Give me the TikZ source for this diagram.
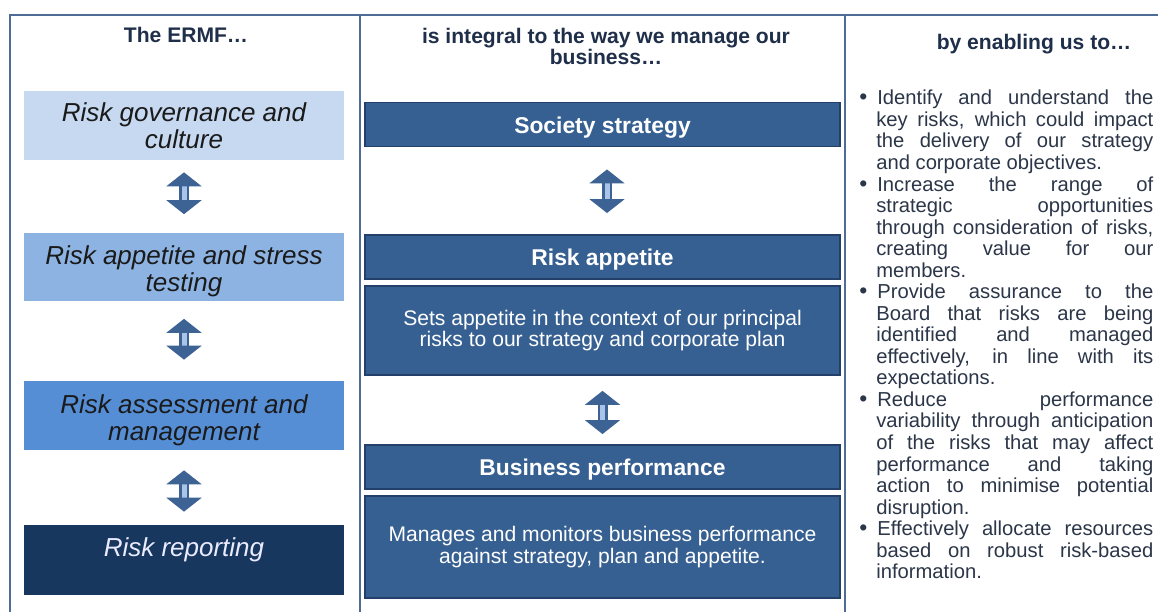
\documentclass[tikz,border=0pt]{standalone}
\usepackage{fontspec}
\setmainfont{Liberation Sans}
\usetikzlibrary{positioning, arrows.meta}

\definecolor{framecol}{HTML}{4F6C96}
\definecolor{headtxt}{HTML}{1F2F4A}
\definecolor{bodytxt}{HTML}{2B3648}
\definecolor{boxtxt}{HTML}{1A1A1A}
\definecolor{govfill}{HTML}{C6D9F1}
\definecolor{appfill}{HTML}{8DB3E2}
\definecolor{assfill}{HTML}{558ED5}
\definecolor{repfill}{HTML}{17375E}
\definecolor{midfill}{HTML}{376092}
\definecolor{midline}{HTML}{22406A}
\definecolor{arrowdark}{HTML}{3D6394}
\definecolor{arrowlite}{HTML}{A9C4E8}

% bullet list for the right hand column
\newenvironment{enablelist}{%
  \begin{list}{{\fontsize{13}{13}\selectfont\textbullet}}{%
    \setlength{\leftmargin}{0.36cm}\setlength{\labelwidth}{0.14cm}%
    \setlength{\labelsep}{0.2cm}\setlength{\itemindent}{0pt}%
    \setlength{\itemsep}{0pt}\setlength{\parsep}{0pt}%
    \setlength{\topsep}{0pt}\setlength{\partopsep}{0pt}}%
  \tolerance=9999 \hbadness=10000}
  {\end{list}}

\begin{document}
\begin{tikzpicture}[x=0.02cm, y=-0.02cm]
% Define styles
\tikzstyle{frame}=[draw=framecol, line width=1.4pt]
\tikzstyle{colhead}=[align=center, text=headtxt, inner sep=0pt, font=\fontsize{12}{12}\selectfont\bfseries]
\tikzstyle{ermf}=[rectangle, minimum width=6.4cm, minimum height=1.38cm, inner sep=0pt, align=center, text=boxtxt, font=\fontsize{14.8}{15.4}\selectfont\itshape]
\tikzstyle{midbox}=[rectangle, draw=midline, line width=1.1pt, fill=midfill, minimum width=9.5cm, inner sep=0pt, text=white]
\tikzstyle{midtitle}=[midbox, minimum height=0.88cm, text height=12.9pt, text depth=2.7pt, font=\fontsize{13}{14}\selectfont\bfseries]
\tikzstyle{middesc}=[midbox, align=center, font=\fontsize{12}{12.3}\selectfont]
\tikzstyle{enable}=[text width=5.9cm, inner sep=0pt, align=justify, text=bodytxt, font=\fontsize{11.5}{12.26}\selectfont]
\tikzstyle{updown}=[draw=arrowdark, line width=0.05cm, double=arrowlite, double distance=0.1cm, {Triangle[width=0.7cm,length=0.28cm]}-{Triangle[width=0.7cm,length=0.28cm]}]

\fill[white] (0,0) rectangle (1158,612);
\useasboundingbox (0,0) rectangle (1158,612);

% Column frame
\draw[frame] (10,612) -- (10,15) -- (1158,15);
\draw[frame] (360,15) -- (360,612);
\draw[frame] (845,15) -- (845,612);

% Place nodes
\node[colhead] (ermfhead) at (186,35) {The ERMF…};
\node[colhead] (wayhead) at (606,46.5) {is integral to the way we manage our\\business…};
\node[colhead] (enablehead) at (1034,44) {by enabling us to…};

% left column: the framework
\node[ermf, fill=govfill] (gov) at (184,125.5) {Risk governance and\\culture};
\node[ermf, fill=appfill, text height=28pt, text depth=0pt] (app) at (184,267) {Risk appetite and stress\\testing};
\node[ermf, fill=assfill, text height=28pt, text depth=0pt] (ass) at (184,415.5) {Risk assessment and\\management};
\node[ermf, fill=repfill, minimum height=1.4cm, text=white!92!blue, text depth=0.5cm] (rep) at (184,560) {Risk reporting};

% middle column: how it is used
\node[midtitle] (soc) at (602.5,124.5) {Society strategy};
\node[midtitle] (apt) at (602.5,257) {Risk appetite};
\node[middesc, minimum height=1.78cm, below=0.1cm of apt] (setd) {Sets appetite in the context of our principal\\risks to our strategy and corporate plan};
\node[midtitle] (bus) at (602.5,467) {Business performance};
\node[middesc, minimum height=2.04cm, below=0.1cm of bus] (mand) {Manages and monitors business performance\\against strategy, plan and appetite.};

% right column: what it enables
\node[enable, anchor=north west] (aims) at (858,83) {\begin{enablelist}
\item Identify and understand the\linebreak key risks, which could impact\linebreak the delivery of our strategy\linebreak and corporate objectives.
\item Increase the range of\linebreak strategic opportunities\linebreak through consideration of risks,\linebreak creating value for our\linebreak members.
\item Provide assurance to the\linebreak Board that risks are being\linebreak identified and managed\linebreak effectively, in line with its\linebreak expectations.
\item Reduce performance\linebreak variability through anticipation\linebreak of the risks that may affect\linebreak performance and taking\linebreak action to minimise potential\linebreak disruption.
\item Effectively allocate resources\linebreak based on robust risk-based\linebreak information.
\end{enablelist}};

% Draw arrows
\draw[updown, shorten <=0.24cm, shorten >=0.36cm] (gov) -- (app);
\draw[updown, shorten <=0.34cm, shorten >=0.42cm] (app) -- (ass);
\draw[updown, shorten <=0.4cm, shorten >=0.26cm] (ass) -- (rep);
\draw[updown, shorten <=0.44cm, shorten >=0.42cm] ([xshift=0.09cm]soc.south) -- ([xshift=0.09cm]apt.north);
\draw[updown, shorten <=0.3cm, shorten >=0.2cm] (setd) -- (bus);
\end{tikzpicture}
\end{document}
